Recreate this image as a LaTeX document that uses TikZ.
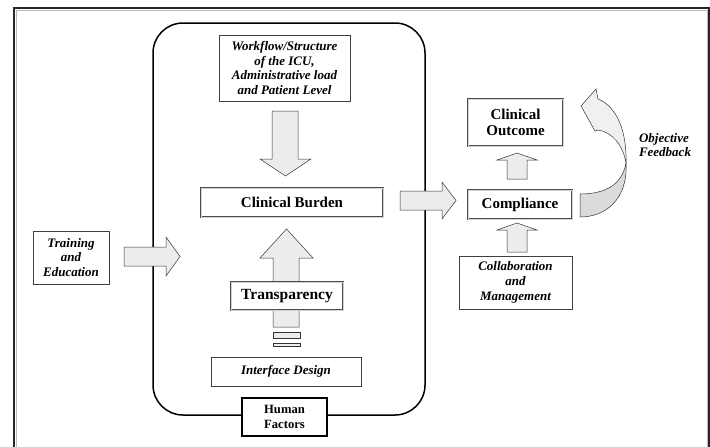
\documentclass[tikz,border=0pt]{standalone}
\usepackage{fontspec}
\setmainfont{Liberation Serif}
\usetikzlibrary{positioning}

\tikzset{
  textbox/.style={draw=black!75, line width=0.6pt, fill=white, align=center,
    font=\fontsize{13}{14.7}\selectfont\bfseries\itshape, inner sep=1pt},
  keybox/.style={draw=black!70, double=gray!35, double distance=1pt, line width=0.6pt,
    fill=white, align=center, inner sep=1pt, font=\fontsize{15}{16}\selectfont\bfseries},
  blockarrow/.style={draw=black!80, fill=gray!15, line width=0.5pt},
}

\begin{document}
\begin{tikzpicture}[x=1pt, y=-1pt]
\useasboundingbox (0,0) rectangle (710,447);
% outer frame
\draw[gray!55, line width=0.8pt] (16,447) |- (707,10) -- (707,447);
\draw[black!85, line width=1.3pt] (14,447) |- (709,8) -- (709,447);

% human factors container
\draw[line width=1.5pt, rounded corners=30pt] (153,23) rectangle (425,415);

% shaft under transparency
\draw[blockarrow] (273,327) -- (273,258) -- (260,258) -- (286.5,229) -- (313,258)
  -- (299,258) -- (299,327) -- cycle;
\draw[blockarrow] (273,332) rectangle (300,338);
\draw[blockarrow] (273,343) rectangle (300,346);

\node[textbox, minimum width=131pt, minimum height=66pt] (work) at (284.5,68)
  {Workflow/Structure\\of the ICU,\\Administrative load\\and Patient Level};
\node[keybox, minimum width=182pt, minimum height=29pt] (burden) at (292,202.5) {Clinical Burden};
\node[keybox, minimum width=112pt, minimum height=28pt,
  font=\fontsize{15.5}{16}\selectfont\bfseries] (transp) at (287,296) {Transparency};
\node[textbox, minimum width=150pt, minimum height=29pt] (iface) at (286,371.5) {Interface Design};
\node[draw, line width=1.5pt, fill=white, align=center, minimum width=85pt, minimum height=38pt,
  inner sep=1pt, font=\fontsize{12.6}{14.3}\selectfont\bfseries] (human) at (284.5,417) {Human\\Factors};
\node[textbox, minimum width=76pt, minimum height=53pt] (train) at (71,257.5) {Training\\and\\Education};

\node[keybox, minimum width=104pt, minimum height=29pt] (comp) at (520,204.5) {Compliance};
\node[keybox, minimum width=95pt, minimum height=47pt,
  font=\fontsize{15}{16.5}\selectfont\bfseries] (outcome) at (515.5,122.5) {Clinical\\Outcome};
\node[textbox, minimum width=113pt, minimum height=53pt] (collab) at (515.5,282.5)
  {Collaboration\\and\\Management};
\node[align=left, inner sep=0pt, font=\fontsize{13}{14.5}\selectfont\bfseries\itshape] (fb) at (665,145)
  {Objective\\Feedback};

% block arrows
\draw[blockarrow] (272,111) -- (298,111) -- (298,159) -- (311,159) -- (285.5,176)
  -- (260,159) -- (272,159) -- cycle;
\draw[blockarrow] (124,247) -- (166,247) -- (166,237) -- (180,256.5) -- (166,276)
  -- (166,266) -- (124,266) -- cycle;
\draw[blockarrow] (400,191) -- (442,191) -- (442,182) -- (456,200.5) -- (442,219)
  -- (442,210) -- (400,210) -- cycle;
\draw[blockarrow] (507,179) -- (507,160) -- (497,160) -- (517,153) -- (537,160)
  -- (527,160) -- (527,179) -- cycle;
\draw[blockarrow] (507,252) -- (507,230) -- (497,230) -- (517,223) -- (537,230)
  -- (527,230) -- (527,252) -- cycle;

% feedback ribbon
\draw[blockarrow, fill=gray!28] (626,163) .. controls (628,200) and (605,217) .. (580,217)
  -- (580,194) .. controls (605,194) and (622,185) .. (626,163) -- cycle;
\draw[blockarrow, fill=gray!12] (581,106) -- (596,89) -- (598,99)
  .. controls (616,106) and (627,130) .. (626,163)
  .. controls (623,145) and (612,132) .. (598,130) -- (595,131) -- cycle;
\end{tikzpicture}
\end{document}
